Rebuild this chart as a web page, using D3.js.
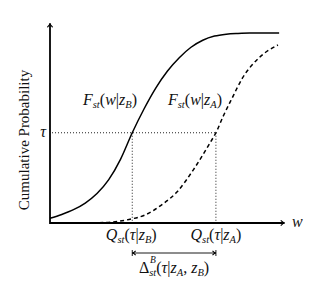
<!DOCTYPE html>
<html><head><meta charset="utf-8">
<script src="https://cdn.jsdelivr.net/npm/d3@7"></script>
<style>body{margin:0;background:#fff}svg{display:block}</style>
</head><body><svg id="c" width="317" height="291" font-family="Liberation Serif, DejaVu Serif, serif"></svg>
<script>
// data: w (x units), cumulative probability
const solidB = [[0.0,0.025],[0.5,0.045],[1.0,0.07],[1.5,0.105],[2.0,0.155],[2.5,0.228],[3.0,0.335],[3.5,0.475],[4.0,0.6],[4.5,0.71],[5.0,0.8],[5.5,0.87],[6.0,0.925],[6.5,0.962],[7.0,0.984],[7.5,0.994],[8.0,0.998],[8.5,1.0],[9.75,1.0]];
const dashedA = [[1.5,0.0],[2.0,0.001],[2.64,0.005],[3.45,0.021],[4.04,0.042],[4.8,0.10],[5.4,0.163],[6.1,0.28],[6.8,0.42],[7.06,0.475],[7.4,0.57],[7.7,0.645],[8.2,0.765],[8.9,0.87],[9.7,0.937]];
const tau = 0.475;
const qB = 3.5, qA = 7.06;
const yLabel = "Cumulative Probability";

const svg = d3.select("#c");
const x = d3.scaleLinear([0,10],[50,285]);
const y = d3.scaleLinear([0,1],[223,33]);
const FS = 16, SS = 10.5;

// axes
svg.append("line").attr("x1",x(0)).attr("x2",x(10)-1).attr("y1",y(0)).attr("y2",y(0)).attr("stroke","#000").attr("stroke-width",1.8);
svg.append("line").attr("x1",x(0)).attr("x2",x(0)).attr("y1",y(0)+1).attr("y2",y(1.0526)+1).attr("stroke","#000").attr("stroke-width",1.8);
function arrowHead(tx,ty,dir,s){
  const a=0.55, l=s;
  const p1=[tx-l*Math.cos(dir-a), ty-l*Math.sin(dir-a)];
  const p2=[tx-l*Math.cos(dir+a), ty-l*Math.sin(dir+a)];
  const c=[tx-l*0.35*Math.cos(dir), ty-l*0.35*Math.sin(dir)];
  svg.append("path").attr("d",`M${p1}Q${c} ${tx},${ty}Q${c} ${p2}`)
   .attr("fill","none").attr("stroke","#000").attr("stroke-width",1.1);
}
arrowHead(x(10),y(0),0,5);
arrowHead(x(0),y(1.0526),-Math.PI/2,5);

// dotted guides
function gl(x1,y1,x2,y2){svg.append("line").attr("x1",x1).attr("y1",y1).attr("x2",x2).attr("y2",y2)
  .attr("stroke","#222").attr("stroke-width",1).attr("stroke-dasharray","1,2");}
gl(x(0)+2,y(tau),x(qA),y(tau));
gl(x(qB),y(tau),x(qB),y(0)-1);
gl(x(qA),y(tau),x(qA),y(0)-1);

// curves
const line = d3.line().x(d=>x(d[0])).y(d=>y(d[1])).curve(d3.curveMonotoneX);
svg.append("path").attr("d",line(solidB)).attr("fill","none").attr("stroke","#000").attr("stroke-width",1.5);
svg.append("path").attr("d",line(dashedA)).attr("fill","none").attr("stroke","#000").attr("stroke-width",1.5).attr("stroke-dasharray","4,3");

function mathText(px, py, sym, z, anchor){
  const t = svg.append("text").attr("x",px).attr("y",py).attr("font-size",FS).attr("text-anchor",anchor||"start").attr("fill","#111");
  t.append("tspan").attr("font-style","italic").text(sym);
  t.append("tspan").attr("font-style","italic").attr("font-size",SS).attr("dy",3).text("st");
  t.append("tspan").attr("dy",-3).text("(");
  t.append("tspan").attr("font-style","italic").text(sym==="F"?"w":"τ");
  t.append("tspan").text("|");
  t.append("tspan").attr("font-style","italic").text("z");
  t.append("tspan").attr("font-style","italic").attr("font-size",SS).attr("dy",3).text(z);
  t.append("tspan").attr("dy",-3).text(")");
}
mathText(83,105,"F","B");
mathText(168,105,"F","A");
mathText(x(qB)-1,240,"Q","B","middle");
mathText(x(qA),240,"Q","A","middle");
svg.append("text").attr("x",46).attr("y",y(tau)+4).attr("text-anchor","end").attr("font-size",FS).attr("font-style","italic").attr("fill","#111").text("τ");
svg.append("text").attr("x",292).attr("y",y(0)+4).attr("font-size",FS).attr("font-style","italic").attr("fill","#111").text("w");

// delta arrow
const ay=253;
svg.append("line").attr("x1",x(qB)).attr("x2",x(qA)).attr("y1",ay).attr("y2",ay).attr("stroke","#000").attr("stroke-width",0.9);
svg.append("line").attr("x1",x(qB)).attr("x2",x(qB)).attr("y1",ay-3).attr("y2",ay+3).attr("stroke","#000").attr("stroke-width",0.9);
svg.append("line").attr("x1",x(qA)).attr("x2",x(qA)).attr("y1",ay-3).attr("y2",ay+3).attr("stroke","#000").attr("stroke-width",0.9);
arrowHead(x(qB),ay,Math.PI,4);
arrowHead(x(qA),ay,0,4);
const dt = svg.append("text").attr("x",(x(qB)+x(qA))/2).attr("y",273).attr("font-size",FS).attr("text-anchor","middle").attr("fill","#111");
dt.append("tspan").text("Δ");
dt.append("tspan").attr("font-size",SS).attr("font-style","italic").attr("dy",3).text("st");
dt.append("tspan").attr("dy",-3).text("(");
dt.append("tspan").attr("font-style","italic").text("τ");
dt.append("tspan").text("|");
dt.append("tspan").attr("font-style","italic").text("z");
dt.append("tspan").attr("font-style","italic").attr("font-size",SS).attr("dy",3).text("A");
dt.append("tspan").attr("dy",-3).text(", ");
dt.append("tspan").attr("font-style","italic").text("z");
dt.append("tspan").attr("font-style","italic").attr("font-size",SS).attr("dy",3).text("B");
dt.append("tspan").attr("dy",-3).text(")");
// superscript B placed above the "st" subscript
const bb = dt.node().getBBox();
svg.append("text").attr("x",bb.x+11).attr("y",263).attr("font-size",9.5).attr("font-style","italic").attr("fill","#111").text("B");

// y label
svg.append("text").attr("transform","translate(29,140) rotate(-90)").attr("text-anchor","middle").attr("font-size",15).attr("fill","#111").text(yLabel);
</script></body></html>
